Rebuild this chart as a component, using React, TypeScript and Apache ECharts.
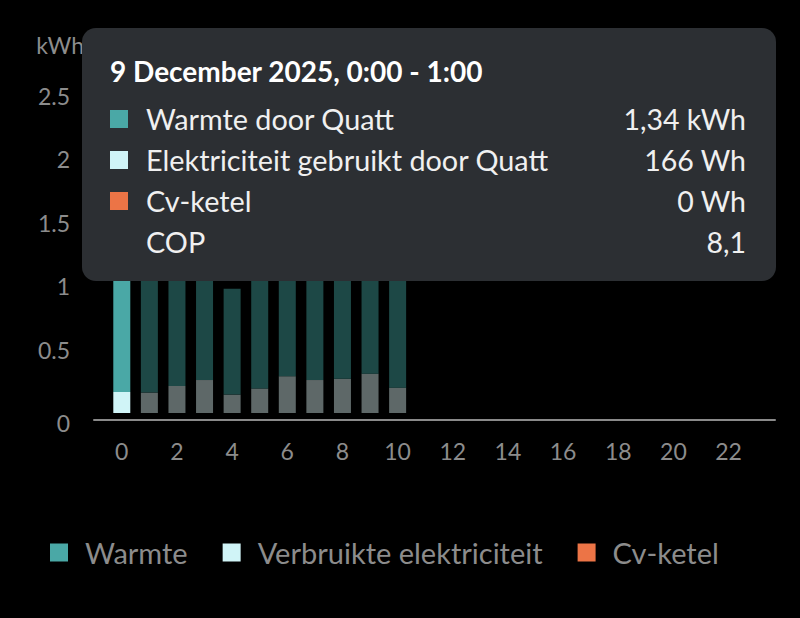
import React, { useEffect, useRef } from "react";
import * as echarts from "echarts";

const hours = ["0", "1", "2", "3", "4", "5", "6", "7", "8", "9", "10", "11", "12", "13", "14", "15", "16", "17", "18", "19", "20", "21", "22", "23"];
const electricity = [0.166, 0.161, 0.213, 0.26, 0.145, 0.193, 0.29, 0.26, 0.27, 0.31, 0.2];
const heat = [1.34, 1.25, 1.3, 1.2, 0.835, 1.28, 1.22, 1.3, 1.25, 1.2, 1.3];
const boiler = [0, 0, 0, 0, 0, 0, 0, 0, 0, 0, 0];
const highlighted = 0;

const tooltipTitle = "9 December 2025, 0:00 - 1:00";
const tooltipRows = [
  { label: "Warmte door Quatt", value: "1,34 kWh", color: "#4aa8a6" },
  { label: "Elektriciteit gebruikt door Quatt", value: "166 Wh", color: "#d0f4f7" },
  { label: "Cv-ketel", value: "0 Wh", color: "#ec7446" },
  { label: "COP", value: "8,1", color: "" },
];

const FONT = "Lato, 'Noto Sans', sans-serif";

export default function App() {
  const ref = useRef<HTMLDivElement>(null);
  useEffect(() => {
    const chart = echarts.init(ref.current!, null, { renderer: "svg" });
    const mk = (vals: number[], full: string, dim: string) =>
      vals.map((v, i) => ({
        value: v,
        itemStyle: { color: i === highlighted ? full : dim },
      }));

    const graphics: any[] = [
      {
        type: "rect",
        z: 100,
        shape: { x: 82, y: 28, width: 694, height: 253, r: 14 },
        style: { fill: "#2c2f33" },
      },
      {
        type: "text",
        z: 101,
        x: 110,
        y: 71,
        style: {
          text: tooltipTitle,
          fill: "#ffffff",
          font: `bold 28px ${FONT}`,
          verticalAlign: "middle",
        },
      },
    ];
    tooltipRows.forEach((r, i) => {
      const cy = 119 + i * 41;
      if (r.color) {
        graphics.push({
          type: "rect",
          z: 101,
          shape: { x: 110, y: cy - 9, width: 18, height: 18 },
          style: { fill: r.color },
        });
      }
      graphics.push({
        type: "text",
        z: 101,
        x: 146,
        y: cy,
        style: { text: r.label, fill: "#f0f0f0", font: `28.8px ${FONT}`, verticalAlign: "middle" },
      });
      graphics.push({
        type: "text",
        z: 101,
        x: 746,
        y: cy,
        style: {
          text: r.value,
          fill: "#f0f0f0",
          font: `28.5px ${FONT}`,
          verticalAlign: "middle",
          align: "right",
        },
      });
    });

    const labelColor = "#8c8c8c";

    chart.setOption({
      animation: false,
      backgroundColor: "#000000",
      textStyle: { fontFamily: FONT },
      grid: [
        { left: 108, right: 30, top: 96, bottom: 205 },
        { left: 94, right: 25, top: 96, bottom: 198 },
      ],
      legend: {
        bottom: 46,
        left: 45,
        icon: "rect",
        itemWidth: 18,
        itemHeight: 18,
        itemGap: 35,
        textStyle: { color: labelColor, fontSize: 29, fontFamily: FONT, padding: [0, 0, 0, 12] },
        data: [
          { name: "Warmte", itemStyle: { color: "#4aa8a6" } },
          { name: "Verbruikte elektriciteit", itemStyle: { color: "#d0f4f7" } },
          { name: "Cv-ketel", itemStyle: { color: "#ec7446" } },
        ],
      },
      xAxis: [
        {
          type: "category",
          gridIndex: 0,
          data: hours,
          boundaryGap: true,
          offset: 7,
          axisLine: { show: false },
          axisTick: { show: false },
          axisLabel: {
            color: labelColor,
            fontSize: 23,
            margin: 19,
            fontFamily: FONT,
            interval: 1,
          },
        },
        {
          type: "value",
          gridIndex: 1,
          min: 0,
          max: 1,
          axisLine: { show: true, onZero: false, lineStyle: { color: "#8a8a8a", width: 2 } },
          axisTick: { show: false },
          axisLabel: { show: false },
          splitLine: { show: false },
        },
      ],
      yAxis: [
        {
          type: "value",
          gridIndex: 0,
          min: 0,
          max: 2.5,
          interval: 0.5,
          name: "kWh",
          nameGap: 40,
          nameLocation: "end",
          nameTextStyle: { color: labelColor, fontSize: 23, fontFamily: FONT, align: "right", padding: [0, 24, 0, 0] },
          splitLine: { show: false },
          axisLine: { show: false },
          axisTick: { show: false },
          axisLabel: {
            color: labelColor,
            fontSize: 23,
            margin: 38,
            fontFamily: FONT,
            formatter: (v: number) => (v === 0 ? "{z|0}" : String(v)),
            rich: { z: { fontSize: 23, color: labelColor, fontFamily: FONT, padding: [20, 0, 0, 0] } },
          },
        },
        {
          type: "value",
          gridIndex: 1,
          show: false,
          min: 0,
          max: 1,
        },
      ],
      series: [
        {
          name: "Verbruikte elektriciteit",
          type: "bar",
          stack: "total",
          barWidth: 17,
          xAxisIndex: 0,
          yAxisIndex: 0,
          data: mk(electricity, "#d0f4f7", "#5e6868"),
        },
        {
          name: "Warmte",
          type: "bar",
          stack: "total",
          barWidth: 17,
          xAxisIndex: 0,
          yAxisIndex: 0,
          data: mk(heat, "#4aa8a6", "#1d4846"),
        },
        {
          name: "Cv-ketel",
          type: "bar",
          stack: "total",
          barWidth: 17,
          xAxisIndex: 0,
          yAxisIndex: 0,
          data: mk(boiler, "#ec7446", "#5a3020"),
        },
      ],
      graphic: graphics,
    });
    return () => chart.dispose();
  }, []);
  return <div ref={ref} style={{ width: 800, height: 618, position: "absolute", left: 0, top: 0 }} />;
}
